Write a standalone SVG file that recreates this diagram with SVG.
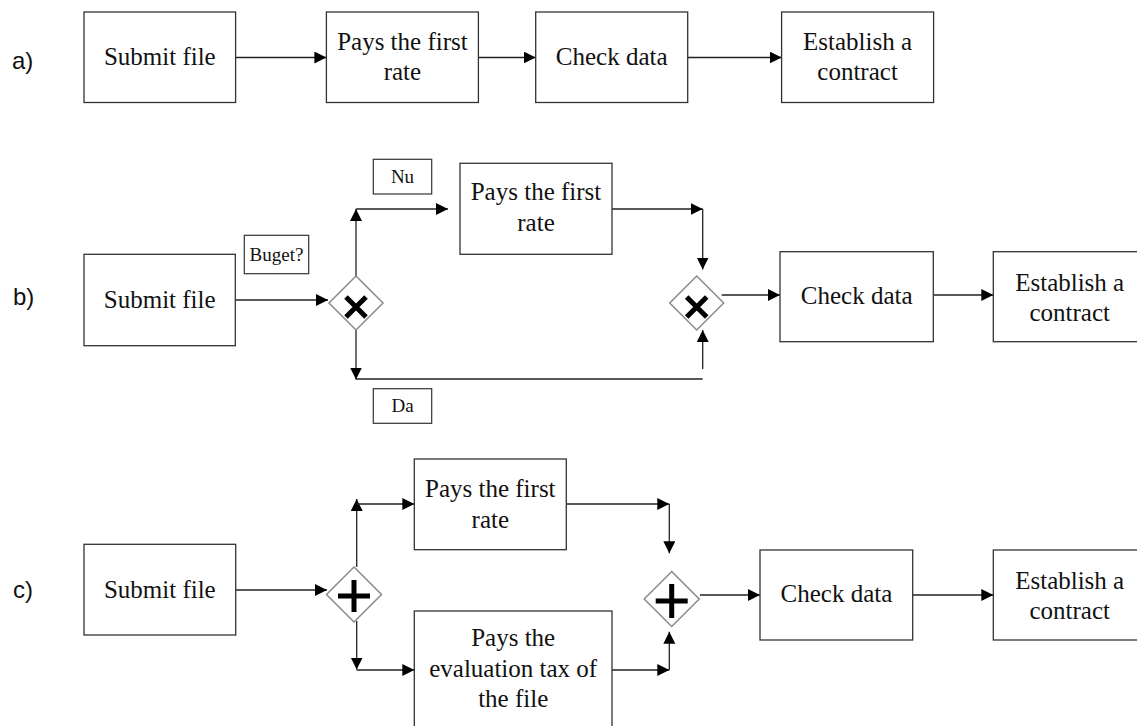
<svg xmlns="http://www.w3.org/2000/svg" width="1137" height="726" viewBox="0 0 1137 726">
<style>
.box{fill:#fff;stroke:#333;stroke-width:1.3}
.lbl{fill:#fff;stroke:#333;stroke-width:1.2}
.t{font-family:'Liberation Serif','Times New Roman','DejaVu Serif',serif;font-size:25px;fill:#111;text-anchor:middle}
.s{font-family:'Liberation Serif','Times New Roman','DejaVu Serif',serif;font-size:19px;fill:#111;text-anchor:middle}
.r{font-family:'Liberation Sans',Arial,sans-serif;font-size:24px;fill:#111}
.c{fill:none;stroke:#222;stroke-width:1.3}
.ca{fill:none;stroke:#222;stroke-width:1.3;marker-end:url(#ah)}
.gw{fill:#fff;stroke:#8a8a8a;stroke-width:1.5}
.mk{stroke:#000;stroke-width:5;fill:none}
</style>
<defs>
<marker id="ah" markerWidth="13" markerHeight="13" refX="12" refY="6" orient="auto" markerUnits="userSpaceOnUse">
<path d="M0,0 L12,6 L0,12 Z" fill="#000"/>
</marker>
</defs>
<rect width="1137" height="726" fill="#fff"/>

<text class="r" x="12" y="69">a)</text>
<text class="r" x="13" y="305">b)</text>
<text class="r" x="13" y="598">c)</text>

<g id="connectors">
<path class="ca" d="M235.6,57.5 H326.4"/>
<path class="ca" d="M478.4,57.5 H535.7"/>
<path class="ca" d="M687.7,57.5 H781.6"/>

<path class="ca" d="M235.3,300 H328"/>
<path class="ca" d="M356,276 V209"/>
<path class="ca" d="M356,209 H448"/>
<path class="ca" d="M612,209 H702.7"/>
<path class="ca" d="M702.7,209 V269.5"/>
<path class="ca" d="M356,330 V379.5"/>
<path class="c" d="M356,379 H702.7"/>
<path class="ca" d="M702.7,369 V330"/>
<path class="ca" d="M721.7,295 H780"/>
<path class="ca" d="M933.3,295 H993.3"/>

<path class="ca" d="M235.7,590 H327"/>
<path class="ca" d="M356.7,567 V499"/>
<path class="ca" d="M356.7,504 H414.3"/>
<path class="ca" d="M566.3,504 H669.3"/>
<path class="ca" d="M669.3,504 V553.3"/>
<path class="ca" d="M356.7,621 V669.5"/>
<path class="ca" d="M356.7,670 H414.3"/>
<path class="ca" d="M612,670 H669.3"/>
<path class="ca" d="M669.3,670 V631.7"/>
<path class="ca" d="M700,595 H760"/>
<path class="ca" d="M912.7,595 H993.3"/>
</g>

<g id="a-submit"><rect class="box" x="84" y="12" width="151.6" height="90.5"/><text class="t" x="159.8" y="65">Submit file</text></g>
<g id="a-pays"><rect class="box" x="326.4" y="12" width="152" height="90.5"/><text class="t" x="402.4" y="50">Pays the first</text><text class="t" x="402.4" y="80">rate</text></g>
<g id="a-check"><rect class="box" x="535.7" y="12" width="152" height="90.5"/><text class="t" x="611.7" y="65">Check data</text></g>
<g id="a-establish"><rect class="box" x="781.6" y="12" width="152" height="90.5"/><text class="t" x="857.6" y="50">Establish a</text><text class="t" x="857.6" y="80">contract</text></g>

<g id="b-submit"><rect class="box" x="84" y="254.3" width="151.3" height="91.4"/><text class="t" x="159.7" y="308">Submit file</text></g>
<g id="b-buget"><rect class="lbl" x="244.3" y="235.3" width="64.4" height="38.4"/><text class="s" x="276.5" y="260.5">Buget?</text></g>
<g id="b-nu"><rect class="lbl" x="373.3" y="159.3" width="58.4" height="34.7"/><text class="s" x="402.5" y="183">Nu</text></g>
<g id="b-da"><rect class="lbl" x="373.3" y="388.7" width="58.4" height="34.6"/><text class="s" x="402.5" y="412">Da</text></g>
<g id="b-gw1"><path class="gw" d="M356,276 L383,303 L356,330 L329,303 Z"/><path class="mk" d="M346,297 L366,317 M366,297 L346,317"/></g>
<g id="b-pays"><rect class="box" x="460" y="163.3" width="152" height="91"/><text class="t" x="536" y="200">Pays the first</text><text class="t" x="536" y="231">rate</text></g>
<g id="b-gw2"><path class="gw" d="M696.7,276 L723.7,303 L696.7,330 L669.7,303 Z"/><path class="mk" d="M686.7,297 L706.7,317 M706.7,297 L686.7,317"/></g>
<g id="b-check"><rect class="box" x="780" y="251.7" width="153.3" height="90"/><text class="t" x="856.7" y="304">Check data</text></g>
<g id="b-establish"><rect class="box" x="993.3" y="251.7" width="153" height="90"/><text class="t" x="1069.7" y="291">Establish a</text><text class="t" x="1069.7" y="321">contract</text></g>

<g id="c-submit"><rect class="box" x="84" y="544.3" width="151.7" height="90.7"/><text class="t" x="159.8" y="598">Submit file</text></g>
<g id="c-gw1"><path class="gw" d="M354,567 L381.5,594.5 L354,622 L326.5,594.5 Z"/><path class="mk" d="M338,596 H370 M354,580 V612"/></g>
<g id="c-pays"><rect class="box" x="414.3" y="459" width="152" height="90.7"/><text class="t" x="490.3" y="497">Pays the first</text><text class="t" x="490.3" y="527.5">rate</text></g>
<g id="c-eval"><rect class="box" x="414.3" y="611" width="197.7" height="130"/><text class="t" x="513.2" y="646">Pays the</text><text class="t" x="513.2" y="676.5">evaluation tax of</text><text class="t" x="513.2" y="706.5">the file</text></g>
<g id="c-gw2"><path class="gw" d="M671.7,571.5 L699.2,599 L671.7,626.5 L644.2,599 Z"/><path class="mk" d="M655.7,601 H687.7 M671.7,584 V618"/></g>
<g id="c-check"><rect class="box" x="760" y="550" width="152.7" height="90"/><text class="t" x="836.4" y="602">Check data</text></g>
<g id="c-establish"><rect class="box" x="993.3" y="550" width="153" height="90"/><text class="t" x="1069.7" y="588.5">Establish a</text><text class="t" x="1069.7" y="618.5">contract</text></g>
</svg>
